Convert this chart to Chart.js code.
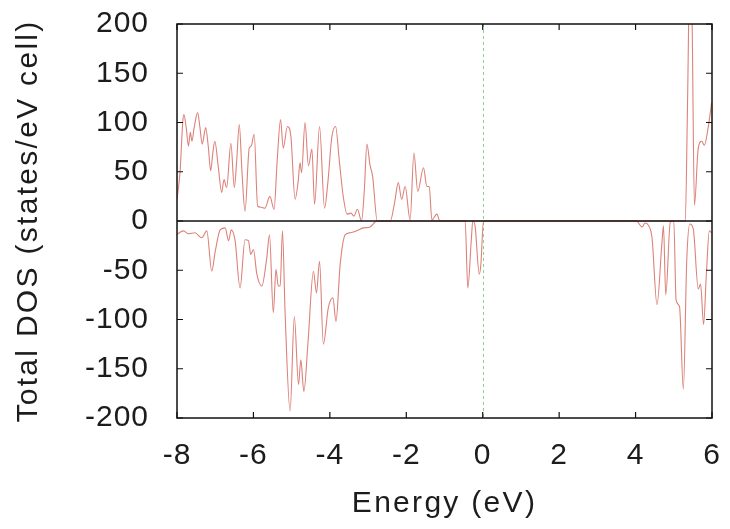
<!DOCTYPE html>
<html>
<head>
<meta charset="utf-8">
<script src="https://cdn.jsdelivr.net/npm/chart.js@4/dist/chart.umd.min.js"></script>
<style>
  html, body { margin: 0; padding: 0; background: #ffffff; }
  #wrap { width: 730px; height: 529px; position: relative; }
</style>
</head>
<body>
<div id="wrap"><canvas id="c" width="730" height="529"></canvas></div>
<script>
// ---- data ----
const xTicks = [-8, -6, -4, -2, 0, 2, 4, 6];
const xTickLabels = ['-8', '-6', '-4', '-2', '0', '2', '4', '6'];
const yTicks = [-200, -150, -100, -50, 0, 50, 100, 150, 200];
const yTickLabels = ['-200', '-150', '-100', '-50', '0', '50', '100', '150', '200'];

// spin-up DOS (positive half)
const upEnergy = [
  -8.00, -7.92, -7.85, -7.82, -7.76, -7.70, -7.65, -7.61, -7.55, -7.46,
  -7.40, -7.34, -7.28, -7.25, -7.18, -7.12, -7.06, -7.01, -6.92, -6.83,
  -6.77, -6.70, -6.59, -6.50, -6.44, -6.37, -6.30, -6.22, -6.11, -6.06,
  -5.98, -5.89, -5.80, -5.70, -5.57, -5.46, -5.38, -5.29, -5.22, -5.11,
  -5.02, -4.91, -4.83, -4.78, -4.74, -4.65, -4.56, -4.47, -4.40, -4.27,
  -4.14, -4.05, -3.95, -3.85, -3.75, -3.65, -3.55, -3.45, -3.37, -3.28,
  -3.17, -3.10, -3.03, -2.95, -2.88, -2.76, -2.42, -2.30, -2.21, -2.12,
  -2.03, -1.90, -1.80, -1.70, -1.55, -1.46, -1.40, -1.33, -1.20, -1.12,
  4.00, 5.30, 5.36, 5.42, 5.48, 5.54, 5.64, 5.73, 5.80, 5.90, 5.99
];
const upDOS = [
  22, 50, 100, 108, 95, 76, 90, 81, 95, 110,
  95, 78, 90, 95, 75, 51, 70, 81, 55, 29,
  42, 34, 79, 34, 60, 98, 50, 10, 74, 76,
  88, 15, 14, 13, 25, 12, 60, 103, 74, 96,
  86, 22, 40, 59, 49, 100, 56, 73, 17, 96,
  13, 40, 85, 96, 60, 25, 7, 8, 5, 12,
  0, 30, 78, 57, 45, 0, 0, 20, 39, 22,
  35, 1, 69, 30, 54, 35, 35, 1, 7, 0,
  0, 0, 120, 260, 200, 16, 74, 81, 77, 95, 120
];

// spin-down DOS (negative half)
const downEnergy = [
  -8.02, -7.83, -7.70, -7.53, -7.35, -7.22, -7.09, -7.00, -6.87, -6.74,
  -6.65, -6.58, -6.48, -6.35, -6.22, -6.13, -6.07, -6.00, -5.91, -5.78,
  -5.65, -5.58, -5.48, -5.41, -5.35, -5.30, -5.24, -5.17, -5.04, -4.93,
  -4.82, -4.76, -4.68, -4.57, -4.43, -4.35, -4.27, -4.17, -4.04, -3.92,
  -3.84, -3.73, -3.60, -3.47, -3.30, -3.12, -2.95, -2.77, -0.46, -0.39,
  -0.30, -0.26, -0.20, -0.09, -0.05, 0.02, 4.02, 4.17, 4.25, 4.33,
  4.43, 4.56, 4.69, 4.73, 4.79, 4.91, 5.00, 5.06, 5.15, 5.25,
  5.34, 5.42, 5.51, 5.64, 5.70, 5.78, 5.85, 5.93, 5.99
];
const downDOS = [
  -14, -10, -13, -12, -17, -10, -51, -31, -9, -7,
  -20, -9, -20, -68, -19, -20, -34, -29, -54, -66,
  -37, -14, -93, -49, -66, -66, -10, -95, -193, -97,
  -166, -141, -173, -122, -51, -73, -41, -125, -88, -78,
  -102, -44, -14, -12, -10, -7, -6, 0, 0, -68,
  -20, 0, -5, -54, -45, 0, 0, -6, -2, -4,
  -17, -85, -22, -5, -75, -1, 0, -80, -87, -171,
  -39, -3, -8, -69, -64, -105, -56, -10, -12
];

const xTitle = 'Energy (eV)';
const yTitle = 'Total DOS (states/eV cell)';

// ---- chart ----
const FONT = '"Liberation Sans", Arial, sans-serif';
const TXT = '#1c1c1c';
const LINE = 'rgb(220,130,122)';
const TITLE_SPACING = '2.3px';
const TICK_SPACING = '1px';

function toPoints(xs, ys) { return xs.map((x, i) => ({ x: x, y: ys[i] })); }

// wider text spacing like the reference font
const spacingPlugin = {
  id: 'spacing',
  beforeDraw(chart) {
    Object.values(chart.scales).forEach(s => {
      if (s._lsPatched) return;
      const ot = s.drawTitle, ol = s.drawLabels;
      s.drawTitle = function (...a) {
        const c = this.ctx, p = c.letterSpacing;
        c.letterSpacing = TITLE_SPACING; ot.apply(this, a); c.letterSpacing = p || '0px';
      };
      s.drawLabels = function (...a) {
        const c = this.ctx, p = c.letterSpacing;
        c.letterSpacing = TICK_SPACING; ol.apply(this, a); c.letterSpacing = p || '0px';
      };
      s._lsPatched = true;
    });
  }
};

const framePlugin = {
  id: 'frame',
  beforeDatasetsDraw(chart) {
    const { ctx, chartArea: a, scales: { x } } = chart;
    const px = x.getPixelForValue(0);
    ctx.save();
    ctx.strokeStyle = 'rgb(140,210,140)';
    ctx.lineWidth = 1;
    ctx.setLineDash([3, 3]);
    ctx.beginPath();
    ctx.moveTo(Math.round(px) + 0.5, a.top);
    ctx.lineTo(Math.round(px) + 0.5, a.bottom);
    ctx.stroke();
    ctx.restore();
  },
  afterDatasetsDraw(chart) {
    const { ctx, chartArea: a, scales: { x, y } } = chart;
    ctx.save();
    ctx.strokeStyle = '#111';
    // zero axis
    ctx.lineWidth = 1.4;
    const py0 = y.getPixelForValue(0);
    ctx.beginPath();
    ctx.moveTo(a.left, py0);
    ctx.lineTo(a.right, py0);
    ctx.stroke();
    // inward ticks on all four sides
    const tl = 6;
    ctx.lineWidth = 1.2;
    ctx.beginPath();
    x.ticks.forEach(t => {
      const p = x.getPixelForValue(t.value);
      ctx.moveTo(p, a.bottom); ctx.lineTo(p, a.bottom - tl);
      ctx.moveTo(p, a.top); ctx.lineTo(p, a.top + tl);
    });
    y.ticks.forEach(t => {
      const p = y.getPixelForValue(t.value);
      ctx.moveTo(a.left, p); ctx.lineTo(a.left + tl, p);
      ctx.moveTo(a.right, p); ctx.lineTo(a.right - tl, p);
    });
    ctx.stroke();
    // frame
    ctx.lineWidth = 1.5;
    ctx.strokeRect(a.left, a.top, a.right - a.left, a.bottom - a.top);
    ctx.restore();
  }
};

new Chart(document.getElementById('c'), {
  type: 'line',
  data: {
    datasets: [
      { label: 'up', data: toPoints(upEnergy, upDOS), borderColor: LINE, borderWidth: 1.1,
        pointRadius: 0, cubicInterpolationMode: 'monotone', fill: false },
      { label: 'down', data: toPoints(downEnergy, downDOS), borderColor: LINE, borderWidth: 1.1,
        pointRadius: 0, cubicInterpolationMode: 'monotone', fill: false }
    ]
  },
  options: {
    responsive: false,
    animation: false,
    events: [],
    layout: { padding: { left: 0, right: 18, top: 24, bottom: 0 } },
    plugins: { legend: { display: false }, tooltip: { enabled: false } },
    scales: {
      x: {
        type: 'linear', min: -8, max: 6,
        afterBuildTicks: s => { s.ticks = xTicks.map(v => ({ value: v })); },
        afterFit: s => { s.height = 111; s.paddingLeft = 0; s.paddingRight = 0; },
        grid: { display: false, drawTicks: false },
        border: { display: false },
        ticks: {
          color: TXT, padding: 23,
          font: { family: FONT, size: 30, lineHeight: 1 },
          maxRotation: 0, autoSkip: false,
          callback: v => xTickLabels[xTicks.indexOf(v)]
        },
        title: { display: true, text: xTitle, color: TXT, padding: { top: 0, bottom: 7 },
          font: { family: FONT, size: 30, lineHeight: 1.2 } }
      },
      y: {
        type: 'linear', min: -200, max: 200,
        afterBuildTicks: s => { s.ticks = yTicks.map(v => ({ value: v })); },
        afterFit: s => { s.width = 177; s.paddingTop = 0; s.paddingBottom = 0; },
        grid: { display: false, drawTicks: false },
        border: { display: false },
        ticks: {
          color: TXT, padding: 28,
          font: { family: FONT, size: 30, lineHeight: 1 },
          autoSkip: false,
          callback: v => yTickLabels[yTicks.indexOf(v)]
        },
        title: { display: true, text: yTitle, color: TXT, padding: { top: 11, bottom: 0 },
          font: { family: FONT, size: 30, lineHeight: 1.2 } }
      }
    }
  },
  plugins: [spacingPlugin, framePlugin]
});
</script>
</body>
</html>
